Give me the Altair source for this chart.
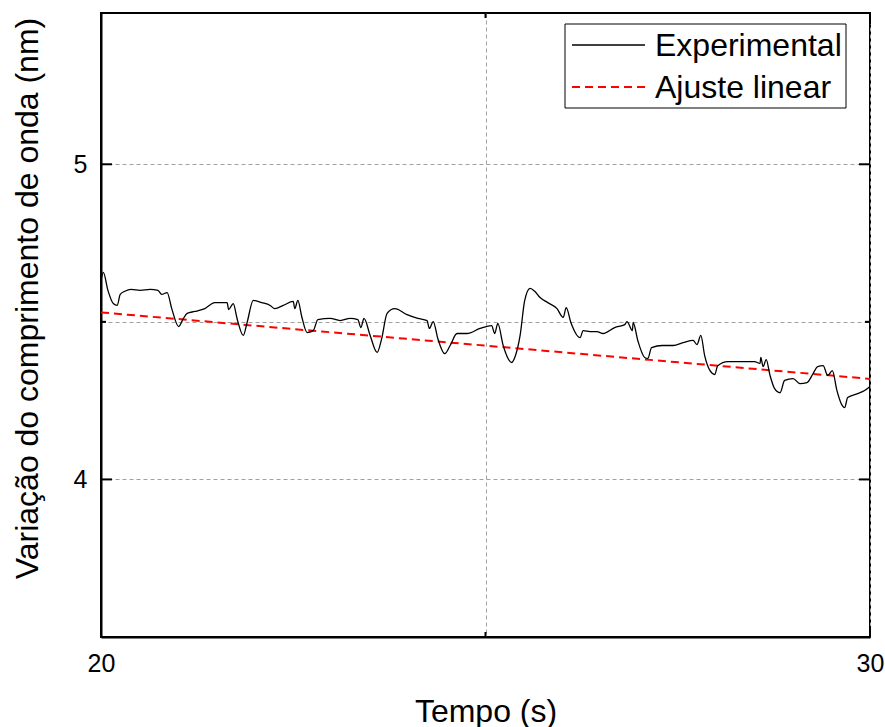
import altair as alt
import pandas as pd

# Experimental trace: time (s) and wavelength shift (nm)
time_s = [
    20.00, 20.03, 20.09, 20.16, 20.21, 20.25, 20.31, 20.39, 20.51, 20.64,
    20.74, 20.79, 20.86, 20.92, 21.01, 21.07, 21.12, 21.22, 21.35, 21.48,
    21.64, 21.66, 21.72, 21.77, 21.85, 21.90, 21.98, 22.09, 22.20, 22.26,
    22.37, 22.50, 22.52, 22.56, 22.61, 22.68, 22.76, 22.82, 22.98, 23.11,
    23.24, 23.34, 23.38, 23.42, 23.50, 23.59, 23.65, 23.72, 23.82, 23.98,
    24.12, 24.24, 24.27, 24.32, 24.38, 24.47, 24.54, 24.63, 24.76, 24.93,
    25.08, 25.12, 25.16, 25.23, 25.34, 25.39, 25.45, 25.51, 25.58, 25.64,
    25.71, 25.81, 25.93, 26.01, 26.05, 26.11, 26.23, 26.27, 26.36, 26.45,
    26.53, 26.68, 26.81, 26.84, 26.91, 26.92, 26.98, 27.07, 27.11, 27.16,
    27.30, 27.44, 27.57, 27.70, 27.75, 27.80, 27.85, 27.92, 27.98, 28.02,
    28.15, 28.31, 28.50, 28.57, 28.58, 28.61, 28.65, 28.70, 28.76, 28.83,
    28.89, 29.00, 29.09, 29.18, 29.26, 29.32, 29.39, 29.45, 29.51, 29.57,
    29.64, 29.67, 29.71, 29.84, 29.93, 30.00,
]
shift_nm = [
    4.631, 4.657, 4.600, 4.558, 4.552, 4.587, 4.597, 4.603, 4.600, 4.603,
    4.600, 4.587, 4.593, 4.542, 4.485, 4.510, 4.527, 4.533, 4.542, 4.561,
    4.561, 4.539, 4.558, 4.510, 4.457, 4.498, 4.568, 4.561, 4.552, 4.542,
    4.552, 4.565, 4.542, 4.568, 4.517, 4.466, 4.472, 4.507, 4.511, 4.504,
    4.511, 4.507, 4.482, 4.511, 4.457, 4.403, 4.447, 4.527, 4.542, 4.523,
    4.511, 4.504, 4.479, 4.501, 4.447, 4.399, 4.425, 4.463, 4.463, 4.479,
    4.488, 4.463, 4.495, 4.425, 4.371, 4.393, 4.457, 4.568, 4.606, 4.597,
    4.577, 4.561, 4.542, 4.514, 4.545, 4.498, 4.450, 4.472, 4.469, 4.469,
    4.463, 4.482, 4.491, 4.501, 4.472, 4.498, 4.441, 4.387, 4.384, 4.418,
    4.425, 4.425, 4.434, 4.441, 4.428, 4.457, 4.393, 4.345, 4.333, 4.361,
    4.374, 4.374, 4.374, 4.368, 4.387, 4.358, 4.380, 4.330, 4.288, 4.275,
    4.314, 4.320, 4.304, 4.307, 4.336, 4.358, 4.361, 4.330, 4.345, 4.282,
    4.234, 4.228, 4.260, 4.272, 4.282, 4.295,
]

# Linear fit endpoints
fit_time = [20.0, 30.0]
fit_nm = [4.530, 4.319]

# Tick positions
x_ticks = [20, 25, 30]
y_ticks = [3.5, 4.0, 4.5, 5.0]
y_major = [4.0, 5.0]
y_minor = [4.5]
x_major = [20, 30]
x_minor = [25]

W, H = 769, 624
FONT = "Liberation Sans"
TITLE_SIZE = 32

exp_df = pd.DataFrame({"t": time_s, "v": shift_nm})
fit_df = pd.DataFrame({"t": fit_time, "v": fit_nm})

x_scale = alt.Scale(domain=[20, 30], nice=False, zero=False)
y_scale = alt.Scale(domain=[3.5, 5.48], nice=False, zero=False)

# Only whole numbers carry a label; half steps keep their grid line
int_label = "datum.value % 1 == 0 && datum.value != 25 ? '' + datum.value : ''"

x_axis = alt.Axis(
    title="Tempo (s)", values=x_ticks,
    labelExpr=int_label, labelFlush=False, labelOverlap=False,
    grid=True, gridDash=[4, 3], gridColor="#a0a0a0", gridWidth=1,
    ticks=True, tickSize=0, domainColor="black", domainWidth=2,
    labelFont=FONT, labelFontSize=25, labelColor="black", labelPadding=14,
    titleFont=FONT, titleFontSize=TITLE_SIZE, titleFontWeight="normal",
    titleColor="black", titleY=74, titleBaseline="middle",
)
y_axis = alt.Axis(
    title="Variação do comprimento de onda (nm)", values=y_ticks,
    labelExpr=int_label, labelFlush=False, labelOverlap=False,
    grid=True, gridDash=[4, 3], gridColor="#a0a0a0", gridWidth=1,
    ticks=True, tickSize=0, domainColor="black", domainWidth=2,
    labelFont=FONT, labelFontSize=25, labelColor="black", labelPadding=14,
    titleFont=FONT, titleFontSize=TITLE_SIZE, titleFontWeight="normal",
    titleColor="black", titleX=-74, titleY=285, titleBaseline="middle",
    titleAlign="center",
)

X = alt.X("t:Q", scale=x_scale, axis=x_axis)
Y = alt.Y("v:Q", scale=y_scale, axis=y_axis)

fit_line = alt.Chart(fit_df).mark_line(
    color="#ff0000", strokeWidth=2, strokeDash=[8, 5]
).encode(x=X, y=Y)

exp_line = alt.Chart(exp_df).mark_line(
    color="black", strokeWidth=1.3, interpolate="monotone"
).encode(x=X, y=Y)

# Inward tick marks on all four sides
def y_tick_layer(values, length, right=False):
    df = pd.DataFrame({"v": values})
    x0, x1 = (W - length, W) if right else (0, length)
    return alt.Chart(df).mark_rule(color="black", strokeWidth=2).encode(
        y=Y, x=alt.value(x0), x2=alt.value(x1),
    )

def x_tick_layer(values, length, top=False):
    df = pd.DataFrame({"t": values})
    y0, y1 = (0, length) if top else (H - length, H)
    return alt.Chart(df).mark_rule(color="black", strokeWidth=2).encode(
        x=X, y=alt.value(y0), y2=alt.value(y1),
    )

ticks = [
    y_tick_layer(y_major, 11), y_tick_layer(y_minor, 5),
    y_tick_layer(y_major, 11, right=True), y_tick_layer(y_minor, 5, right=True),
    x_tick_layer(x_major, 11), x_tick_layer(x_minor, 5),
    x_tick_layer(x_major, 11, top=True), x_tick_layer(x_minor, 5, top=True),
]

# Legend box
legend_df = pd.DataFrame({"label": ["Experimental", "Ajuste linear"]})
box = alt.Chart(legend_df.head(1)).mark_rect(
    fill="white", stroke="black", strokeWidth=1
).encode(x=alt.value(464), x2=alt.value(745), y=alt.value(11), y2=alt.value(95))

sym_exp = alt.Chart(legend_df.head(1)).mark_rule(color="black", strokeWidth=1.3).encode(
    x=alt.value(471), x2=alt.value(544), y=alt.value(32)
)
sym_fit = alt.Chart(legend_df.head(1)).mark_rule(
    color="#ff0000", strokeWidth=2, strokeDash=[8, 5]
).encode(x=alt.value(471), x2=alt.value(544), y=alt.value(74))

lab_exp = alt.Chart(legend_df.iloc[[0]]).mark_text(
    align="left", baseline="middle", font=FONT, fontSize=TITLE_SIZE, color="black"
).encode(text="label:N", x=alt.value(554), y=alt.value(33))
lab_fit = alt.Chart(legend_df.iloc[[1]]).mark_text(
    align="left", baseline="middle", font=FONT, fontSize=TITLE_SIZE, color="black"
).encode(text="label:N", x=alt.value(554), y=alt.value(75))

chart = alt.layer(
    fit_line, exp_line, *ticks, box, sym_exp, sym_fit, lab_exp, lab_fit
).properties(
    width=W, height=H,
    autosize=alt.AutoSizeParams(type="none"),
    padding={"left": 101, "top": 13, "right": 15, "bottom": 90},
).configure(
    background="white"
).configure_view(
    stroke="black", strokeWidth=2
)

chart.save("out.html", embed_options={"renderer": "svg", "actions": False})
